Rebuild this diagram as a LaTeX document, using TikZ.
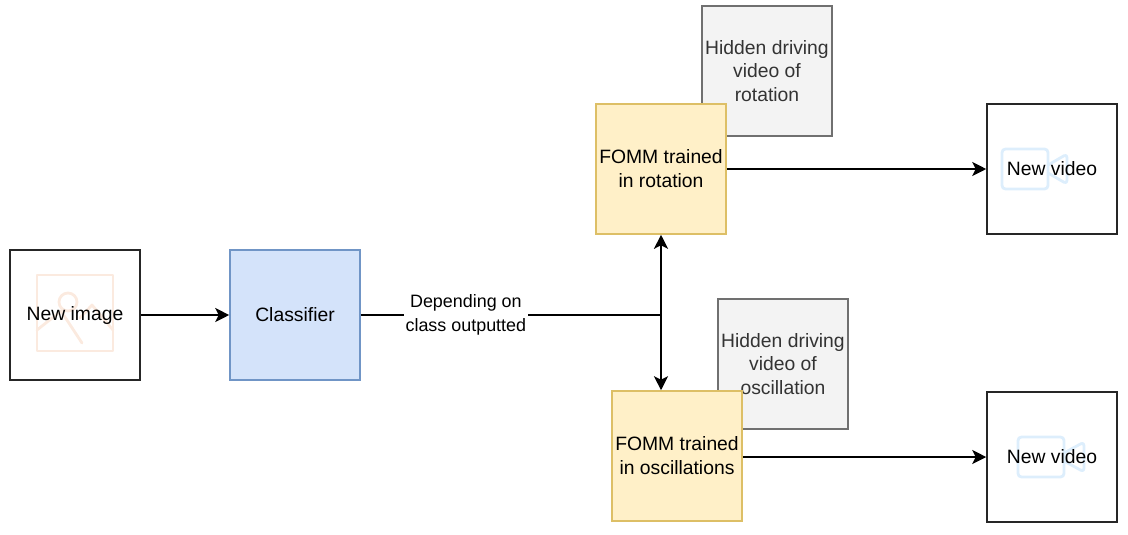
\documentclass[tikz,border=0pt]{standalone}
\usepackage{fontspec}
\setmainfont{Liberation Sans}
\usetikzlibrary{arrows.meta,calc}
\definecolor{bluefill}{HTML}{D4E3FA}
\definecolor{blueline}{HTML}{7095C6}
\definecolor{yellowfill}{HTML}{FFF0C8}
\definecolor{yellowline}{HTML}{DDBF66}
\definecolor{greyfill}{HTML}{F3F3F3}
\definecolor{greyline}{HTML}{707070}
\definecolor{iconorange}{HTML}{FBEADF}
\definecolor{iconblue}{HTML}{DDEEFC}
\begin{document}
\begin{tikzpicture}[x=.02cm, y=-.02cm]
\path [use as bounding box] (0,0) rectangle (1128,534);
\tikzstyle{box} = [draw, minimum size=2.6cm, inner sep=1pt, align=center, line width=.9pt, font=\fontsize{11}{13.6}\selectfont]
\tikzstyle{plainbox} = [box, draw=black!85]
\tikzstyle{classbox} = [box, fill=bluefill, draw=blueline]
\tikzstyle{fommbox} = [box, fill=yellowfill, draw=yellowline]
\tikzstyle{hiddenbox} = [box, fill=greyfill, draw=greyline, text=black!80]
\tikzstyle{conn} = [line width=.9pt, >={Stealth[length=8pt, width=8pt, inset=2pt]}]
\tikzstyle{imageicon} = [iconorange, line width=1.6pt, line join=round, line cap=round]
\tikzstyle{videoicon} = [iconblue, line width=1.6pt, line join=round, rounded corners=2pt]
% faint icons go first, the boxes have no fill
\draw[imageicon] (37,275) rectangle (113,351);
\draw[imageicon] (68,302) circle (9);
\draw[imageicon] (37,330) -- (61,311) -- (82,343);
\draw[imageicon] (80,318) -- (92,305) -- (113,330);
\draw[videoicon] (1002,149) rectangle (1048,189);
\draw[videoicon] (1048,165) -- (1067,154) -- (1067,184) -- (1048,173);
\draw[videoicon] (1018,437) rectangle (1064,477);
\draw[videoicon] (1064,453) -- (1084,442) -- (1084,472) -- (1064,461);
\node[plainbox] (image) at (75,315) {New image};
\node[classbox] (classifier) at (295,315) {Classifier};
\node[hiddenbox] (hiddenrot) at (767,71) {Hidden driving\\video of\\rotation};
\node[hiddenbox] (hiddenosc) at (783,364) {Hidden driving\\video of\\oscillation};
\node[fommbox] (fommrot) at (661,169) {FOMM trained\\in rotation};
\node[fommbox] (fommosc) at (677,456) {FOMM trained\\in oscillations};
\node[plainbox] (videorot) at (1052,169) {New video};
\node[plainbox] (videoosc) at (1052,457) {New video};
\coordinate (split) at (661,315);
	\draw[conn, ->] (image) -- (classifier);
	\draw[conn] (classifier) -- node [pos=.35, fill=white, inner sep=1pt, align=center, font=\fontsize{10.2}{13.6}\selectfont] (class) {Depending on\\class outputted} (split);
	\draw[conn, ->] (split) -- (fommrot.south);
	\draw[conn, ->] (split) -- (split |- fommosc.north);
	\draw[conn, ->] (fommrot) -- (videorot);
	\draw[conn, ->] (fommosc.east |- videoosc) -- (videoosc);
\end{tikzpicture}
\end{document}
